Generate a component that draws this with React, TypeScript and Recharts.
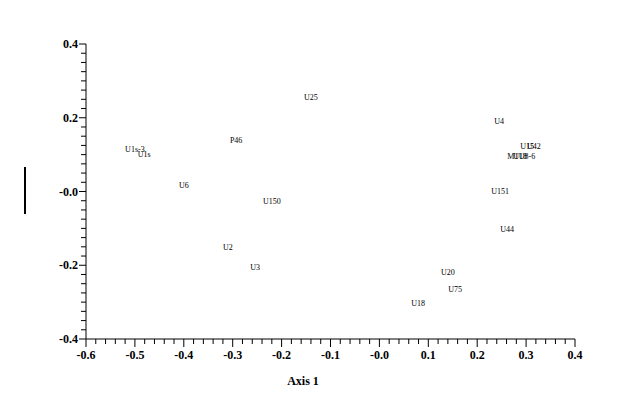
import { ScatterChart, Scatter, XAxis, YAxis } from 'recharts'

// ordination scores (label, axis 1, axis 2)
const pointLabels = [
  'U1s-3', 'U1s', 'U6', 'P46', 'U25', 'U150', 'U2', 'U3',
  'U4', 'U15', 'U42', 'M1', 'U18', 'U8-6', 'U151', 'U44', 'U20', 'U75', 'U18',
]
const axis1 = [
  -0.50, -0.481, -0.40, -0.293, -0.14, -0.22, -0.31, -0.254,
  0.245, 0.302, 0.316, 0.273, 0.288, 0.302, 0.247, 0.261, 0.14, 0.155, 0.079,
]
const axis2 = [
  0.113, 0.099, 0.015, 0.137, 0.254, -0.026, -0.153, -0.207,
  0.191, 0.123, 0.123, 0.096, 0.096, 0.096, -0.001, -0.104, -0.221, -0.267, -0.305,
]

const xLabelTicks = [-0.6, -0.5, -0.4, -0.3, -0.2, -0.1, 0, 0.1, 0.2, 0.3, 0.4]
const yLabelTicks = [-0.4, -0.2, 0, 0.2, 0.4]

const range = (a: number, b: number, step: number) => {
  const out: number[] = []
  const n = Math.round((b - a) / step)
  for (let i = 0; i <= n; i++) out.push(+(a + i * step).toFixed(4))
  return out
}
const xTicks = range(-0.6, 0.4, 0.02)
const yTicks = range(-0.4, 0.4, 0.025)

const data = pointLabels.map((name, i) => ({ name, x: axis1[i], y: axis2[i] }))

const FONT = '"Liberation Serif", "Times New Roman", serif'

const isLabel = (v: number, list: number[]) => list.some(t => Math.abs(t - v) < 1e-6)
const fmt = (v: number) => (Math.abs(v) < 1e-9 ? '-0.0' : v.toFixed(1))

function XTick(props: any) {
  const { x, y, payload } = props
  const major = isLabel(payload.value, xLabelTicks)
  return (
    <g>
      <line x1={x} y1={y} x2={x} y2={y + (major ? 8 : 5)} stroke="#000" strokeWidth={1} />
      {major && (
        <text x={x} y={y + 20} textAnchor="middle" fontFamily={FONT} fontWeight="bold" fontSize={12} fill="#000">
          {fmt(payload.value)}
        </text>
      )}
    </g>
  )
}

function YTick(props: any) {
  const { x, y, payload } = props
  const major = isLabel(payload.value, yLabelTicks)
  return (
    <g>
      <line x1={x} y1={y} x2={x - (major ? 7 : 5)} y2={y} stroke="#000" strokeWidth={1} />
      {major && (
        <text x={x - 8} y={y + 4} textAnchor="end" fontFamily={FONT} fontWeight="bold" fontSize={12} fill="#000">
          {fmt(payload.value)}
        </text>
      )}
    </g>
  )
}

function PointLabel(props: any) {
  const { cx, cy, payload } = props
  return (
    <text x={cx} y={cy} textAnchor="middle" dominantBaseline="central" fontFamily={FONT} fontSize={8} fill="#000">
      {payload.name}
    </text>
  )
}

export default function App() {
  return (
    <div style={{ position: 'fixed', left: 0, top: 0, background: '#fff' }}>
      <ScatterChart width={624} height={413} margin={{ top: 44, right: 49, left: 0, bottom: 0 }}>
        <XAxis
          type="number"
          dataKey="x"
          domain={[-0.6, 0.4]}
          ticks={xTicks}
          interval={0}
          allowDataOverflow
          height={74}
          tickSize={0}
          tickMargin={0}
          tickLine={false}
          tick={<XTick />}
          axisLine={{ stroke: '#000' }}
        />
        <YAxis
          type="number"
          dataKey="y"
          domain={[-0.4, 0.4]}
          ticks={yTicks}
          interval={0}
          allowDataOverflow
          width={86}
          tickSize={0}
          tickMargin={0}
          tickLine={false}
          tick={<YTick />}
          axisLine={{ stroke: '#000' }}
        />
        <Scatter data={data} isAnimationActive={false} shape={<PointLabel />} />
        <text x={303} y={385} textAnchor="middle" fontFamily={FONT} fontWeight="bold" fontSize={12} fill="#000">
          Axis 1
        </text>
        <line x1={25} y1={167} x2={25} y2={214} stroke="#000" strokeWidth={2} />
      </ScatterChart>
    </div>
  )
}
